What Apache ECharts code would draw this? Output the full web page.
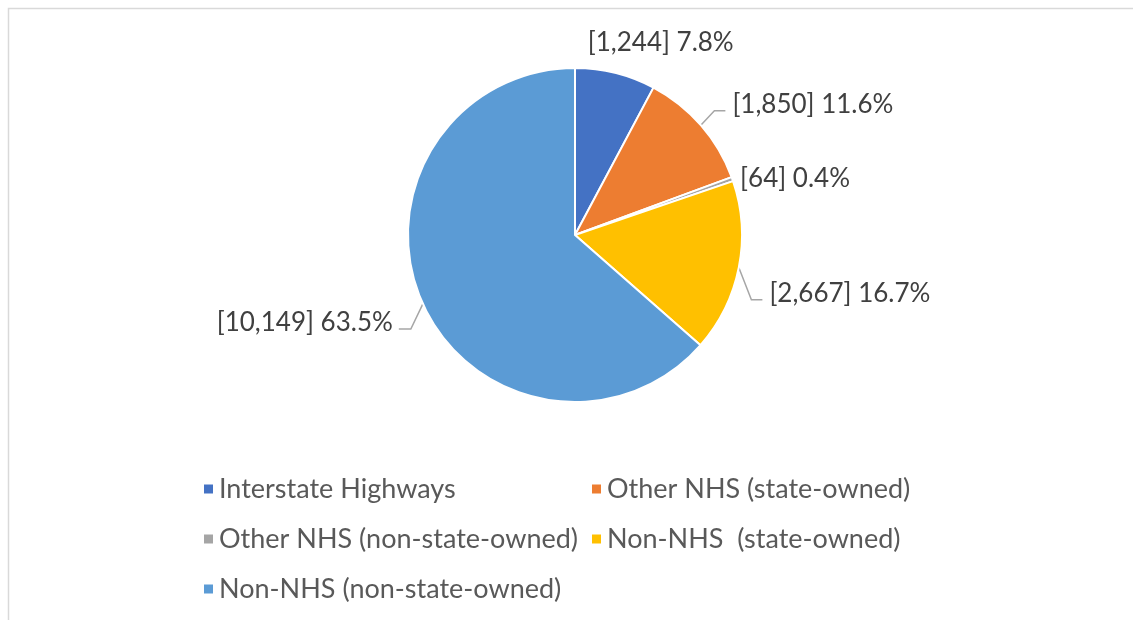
<!DOCTYPE html>
<html>
<head>
<meta charset="utf-8">
<script src="https://cdn.jsdelivr.net/npm/echarts@6/dist/echarts.min.js"></script>
<style>
html,body{margin:0;padding:0;background:#fff;}
#chart{width:1133px;height:620px;}
</style>
</head>
<body>
<div id="chart"></div>
<script>
const categories = ['Interstate Highways','Other NHS (state-owned)','Other NHS (non-state-owned)','Non-NHS  (state-owned)','Non-NHS (non-state-owned)'];
const values = [1244, 1850, 64, 2667, 10149];
const colors = ['#4472C4','#ED7D31','#A5A5A5','#FFC000','#5B9BD5'];
const legendCol1 = [categories[0], categories[2], categories[4]];
const legendCol2 = [categories[1], categories[3]];

const FONT = 'Lato';
const chart = echarts.init(document.getElementById('chart'));
// label offsets (styling) and which labels have no leader line
const labelShift = [[-48,-9],[0,-6],[-28,7],[-6,22],[5,10]];
const noLine = [true,false,true,false,false];
const data = categories.map((n,i)=>({
  name:n, value:values[i], itemStyle:{color:colors[i]},
  labelLine:{show:!noLine[i]}
}));
const legendBase = {
  orient:'vertical', icon:'rect', itemWidth:11, itemHeight:11, itemGap:20,
  textStyle:{fontFamily:FONT, fontSize:27, color:'#595959', lineHeight:30},
  selectedMode:false
};
const CX = 575;
chart.setOption({
  animation:false,
  graphic:[{type:'rect', shape:{x:8.5,y:8.5,width:1300,height:800}, style:{fill:'none', stroke:'#d9d9d9', lineWidth:1.5}, silent:true}],
  legend:[
    Object.assign({}, legendBase, {left:197, top:469, data:legendCol1}),
    Object.assign({}, legendBase, {left:585, top:469, data:legendCol2})
  ],
  series:[{
    type:'pie',
    center:[CX,235],
    radius:[0,167],
    startAngle:90,
    clockwise:true,
    percentPrecision:1,
    avoidLabelOverlap:false,
    itemStyle:{borderColor:'#fff', borderWidth:2},
    label:{
      show:true, position:'outside',
      fontFamily:FONT, fontSize:26, color:'#404040',
      formatter:p=>'['+p.value.toLocaleString('en-US')+'] '+p.percent.toFixed(1)+'%'
    },
    labelLine:{show:true, length:22, length2:10, lineStyle:{color:'#A6A6A6', width:1.5}},
    labelLayout:function(p){
      const s = labelShift[p.dataIndex];
      const out = {dx:s[0], dy:s[1]};
      if (!noLine[p.dataIndex] && p.labelLinePoints) {
        const r = p.labelRect;
        const x0 = r.x + s[0], y0 = r.y + s[1];
        const cy = y0 + r.height/2 + 6;
        const start = p.labelLinePoints[0];
        const right = (x0 + r.width/2) > CX;
        if (right) {
          const ex = x0 - 7;
          out.labelLinePoints = [start, [ex-11, cy], [ex, cy]];
        } else {
          const ex = x0 + r.width + 6;
          out.labelLinePoints = [start, [ex+12, cy], [ex, cy]];
        }
      }
      return out;
    },
    emphasis:{disabled:true},
    data:data
  }]
});
</script>
</body>
</html>
